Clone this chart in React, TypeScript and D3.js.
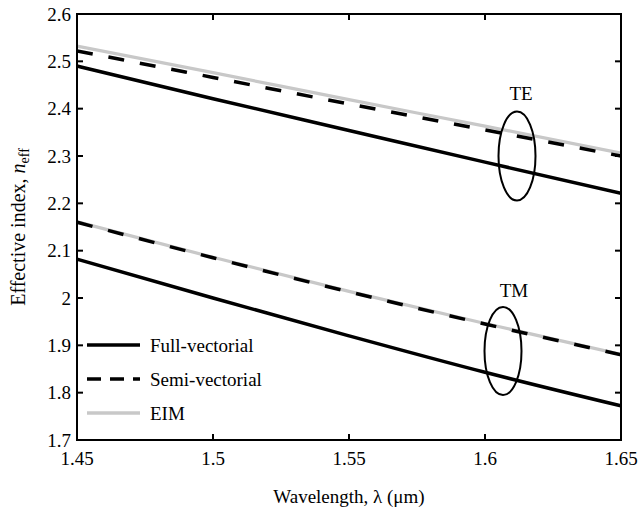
import React from "react";
import * as d3 from "d3";

const wavelengths = [1.45, 1.5, 1.55, 1.6, 1.65];
const teFull = [2.49, 2.421, 2.354, 2.287, 2.221];
const teSemi = [2.522, 2.466, 2.41, 2.355, 2.3];
const teEim = [2.532, 2.476, 2.419, 2.363, 2.306];
const tmFull = [2.082, 2.0, 1.92, 1.843, 1.772];
const tmSemi = [2.16, 2.085, 2.013, 1.945, 1.88];
const tmEim = [2.161, 2.086, 2.014, 1.946, 1.881];
const xTicks = [1.45, 1.5, 1.55, 1.6, 1.65];
const xTickLabels = ["1.45", "1.5", "1.55", "1.6", "1.65"];
const yTicks = [1.7, 1.8, 1.9, 2.0, 2.1, 2.2, 2.3, 2.4, 2.5, 2.6];
const yTickLabels = ["1.7", "1.8", "1.9", "2", "2.1", "2.2", "2.3", "2.4", "2.5", "2.6"];
const legendLabels = ["Full-vectorial", "Semi-vectorial", "EIM"];

const W = 642, H = 507;
const left = 77, right = 621, top = 14, bottom = 440;
const FONT = "'Liberation Serif', 'DejaVu Serif', serif";
const FS = 19;

export default function App() {
  const x = d3.scaleLinear().domain([1.45, 1.65]).range([left, right]);
  const y = d3.scaleLinear().domain([1.7, 2.6]).range([bottom, top]);
  const line = (vals: number[]) =>
    d3.line<number>().x((_, i) => x(wavelengths[i])).y((v) => y(v)).curve(d3.curveMonotoneX)(vals) || "";

  const black = "#000";
  const gray = "#c8c8c8";
  const tick = 6;
  const dash = "16,16";
  const legendY = [345, 379, 413];
  const styles = [
    { stroke: black, dash: undefined as string | undefined, w: 3.5 },
    { stroke: black, dash: "14,9", w: 3.5 },
    { stroke: gray, dash: undefined as string | undefined, w: 3.5 },
  ];

  return (
    <svg width={W} height={H} style={{ position: "absolute", left: 0, top: 0, background: "#fff" }}>
      <defs>
        <clipPath id="plot">
          <rect x={left} y={top} width={right - left} height={bottom - top} />
        </clipPath>
      </defs>
      <g clipPath="url(#plot)" fill="none">
        <path d={line(teEim)} stroke={gray} strokeWidth={3.2} />
        <path d={line(teSemi)} stroke={black} strokeWidth={3.5} strokeDasharray={dash} />
        <path d={line(teFull)} stroke={black} strokeWidth={3.5} />
        <path d={line(tmEim)} stroke={gray} strokeWidth={3.2} />
        <path d={line(tmSemi)} stroke={black} strokeWidth={3.5} strokeDasharray={dash} />
        <path d={line(tmFull)} stroke={black} strokeWidth={3.5} />
      </g>
      <rect x={left} y={top} width={right - left} height={bottom - top} fill="none" stroke={black} strokeWidth={2} />
      {xTicks.map((t, i) => (
        <g key={"x" + i}>
          <line x1={x(t)} x2={x(t)} y1={bottom} y2={bottom - tick} stroke={black} strokeWidth={2} />
          <line x1={x(t)} x2={x(t)} y1={top} y2={top + tick} stroke={black} strokeWidth={2} />
          <text x={x(t)} y={bottom + 25} textAnchor="middle" fontFamily={FONT} fontSize={FS}>
            {xTickLabels[i]}
          </text>
        </g>
      ))}
      {yTicks.map((t, i) => (
        <g key={"y" + i}>
          <line x1={left} x2={left + tick} y1={y(t)} y2={y(t)} stroke={black} strokeWidth={2} />
          <line x1={right} x2={right - tick} y1={y(t)} y2={y(t)} stroke={black} strokeWidth={2} />
          <text x={left - 6} y={y(t) + 6.5} textAnchor="end" fontFamily={FONT} fontSize={FS}>
            {yTickLabels[i]}
          </text>
        </g>
      ))}
      <text x={(left + right) / 2} y={503} textAnchor="middle" fontFamily={FONT} fontSize={FS}>
        Wavelength, λ (μm)
      </text>
      <text
        transform={`translate(25, ${(top + bottom) / 2}) rotate(-90)`}
        textAnchor="middle"
        fontFamily={FONT}
        fontSize={20}
      >
        Effective index, <tspan fontStyle="italic">n</tspan>
        <tspan fontSize={14} dy={4}>eff</tspan>
      </text>
      {legendLabels.map((lab, i) => (
        <g key={"l" + i}>
          <line x1={87} x2={140} y1={legendY[i]} y2={legendY[i]} stroke={styles[i].stroke} strokeWidth={styles[i].w} strokeDasharray={styles[i].dash} />
          <text x={150} y={legendY[i] + 6.5} fontFamily={FONT} fontSize={FS}>
            {lab}
          </text>
        </g>
      ))}
      <ellipse cx={517} cy={156} rx={18.5} ry={44.5} fill="none" stroke={black} strokeWidth={2} />
      <text x={521} y={100} textAnchor="middle" fontFamily={FONT} fontSize={FS}>TE</text>
      <ellipse cx={503} cy={351} rx={18.5} ry={44} fill="none" stroke={black} strokeWidth={2} />
      <text x={514} y={297} textAnchor="middle" fontFamily={FONT} fontSize={FS}>TM</text>
    </svg>
  );
}
